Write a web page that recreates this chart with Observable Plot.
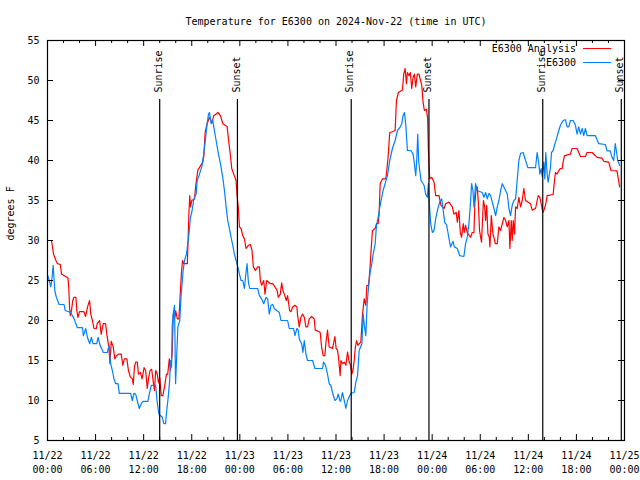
<!DOCTYPE html>
<html><head><meta charset="utf-8">
<script src="https://cdn.jsdelivr.net/npm/d3@7"></script>
<script src="https://cdn.jsdelivr.net/npm/@observablehq/plot@0.6"></script>
<style>
body{margin:0;background:#fff}
#wrap{position:relative;width:640px;height:480px;overflow:hidden}
.legtxt{position:absolute;left:0;width:576px;text-align:right;font:10px "DejaVu Sans Mono",monospace;line-height:12px;color:#000;white-space:pre}
.legline{position:absolute;left:583px;width:28px;height:1px}
</style></head><body><div id="wrap"></div>
<script>
const title = "Temperature for E6300 on 2024-Nov-22 (time in UTC)";
const yLabel = "degrees F";
const seriesNames = ["E6300 Analysis", "E6300"];
const seriesColors = ["#ff0000", "#0080ff"];
const yTicks = [5,10,15,20,25,30,35,40,45,50,55];
const majorTickHours = [0,6,12,18,24,30,36,42,48,54,60,66,72];
const minorTickHours = [2,4,8,10,14,16,20,22,26,28,32,34,38,40,44,46,50,52,56,58,62,64,68,70];
const eventHours = [14.0, 23.7, 37.9, 47.6, 61.8, 71.6];
const eventLabels = ["Sunrise","Sunset","Sunrise","Sunset","Sunrise","Sunset"];

// [hours since 2024-11-22 00:00 UTC, degrees F]
const analysisReadings = [
[0,30],[0.5,30],[0.75,28.3],[1.05,27.5],[1.25,27.1],[1.6,27],[1.75,25.8],[2.55,25.3],[2.65,24.2],[2.75,21.7],[2.85,20.6],[3.0,21.3],[3.15,22.5],[3.3,22.9],[3.55,22.9],[3.65,21.3],[3.8,20.4],[4.0,21.1],[4.55,21.1],[4.75,20.5],[5.0,21.7],[5.25,22.5],[5.4,20.8],[5.6,20],[5.8,19],[6.1,19],[6.2,19.6],[6.5,20],[6.7,18.3],[6.95,19.6],[7.25,19.6],[7.4,18.3],[7.65,16.7],[7.8,14.6],[7.95,17.4],[8.2,16.7],[8.4,15.2],[8.6,15.6],[8.85,15.8],[9.2,15.8],[9.4,14.4],[9.6,15.2],[9.9,15.2],[10.1,13.75],[10.35,12.9],[10.6,12.7],[10.7,12],[10.85,14.2],[11.0,14.8],[11.2,14.8],[11.35,13.3],[11.6,13.5],[11.8,12.7],[12.05,14.1],[12.25,13.75],[12.45,11.5],[12.6,12.7],[12.8,13.75],[13.0,13.9],[13.2,12.3],[13.35,11.25],[13.5,13.75],[13.7,13.3],[13.85,12.2],[14.0,12.9],[14.2,10.6],[14.4,10.6],[14.6,11.7],[14.85,13.3],[15.0,13.3],[15.2,15.2],[15.35,13.75],[15.55,15.8],[15.7,20.8],[15.9,20.4],[16.0,21.2],[16.2,20.2],[16.4,20.2],[16.5,22.1],[16.7,25.8],[16.85,27.5],[17.0,27.1],[17.45,27.1],[17.5,28.75],[17.65,33.5],[17.75,35.6],[17.85,34.2],[18.0,35],[18.35,35.2],[18.5,36.9],[18.76,38.8],[19.38,39.8],[19.51,40.6],[19.67,43.5],[19.92,44.6],[20.21,45.4],[20.5,44.7],[20.75,45.6],[21.04,45.8],[21.25,46],[21.58,45.6],[21.87,44.6],[22.41,44.25],[22.58,42.7],[22.83,40.6],[22.99,39],[23.24,38.3],[23.53,37.5],[23.66,35.6],[23.82,34],[23.95,31.7],[24.15,31.5],[24.36,30.6],[24.57,30.2],[24.78,29],[25.07,29.4],[25.32,29.5],[25.52,28.75],[25.69,26.7],[25.94,26.25],[26.23,26.7],[26.44,26.7],[26.56,25],[26.73,24.4],[26.98,25],[27.14,23.3],[27.35,25],[27.8,24.6],[28.1,24.6],[28.64,23.8],[28.8,22.9],[29.05,23.3],[29.22,24.7],[29.38,23.75],[29.55,23.3],[29.8,22.5],[29.96,23.1],[30.21,21.25],[30.38,21.1],[30.59,21.7],[30.88,21.9],[31.12,21.7],[31.21,20.6],[31.42,19.2],[31.62,20.4],[31.83,20.8],[32.04,20.4],[32.25,19.2],[32.45,19.2],[32.66,20.2],[32.95,20.5],[33.28,20.2],[33.41,18.8],[33.7,18.7],[34.03,18.5],[34.2,16.7],[34.4,15.6],[34.61,15.6],[34.73,17.1],[34.94,18.8],[35.15,16.7],[35.56,16.5],[35.69,17.1],[35.86,18],[36.02,16.5],[36.19,16.3],[36.31,15.4],[36.52,13.1],[36.61,15],[36.82,14.6],[37.03,14.8],[37.23,14.4],[37.44,16.05],[37.65,14.8],[37.82,14.4],[37.98,13.3],[38.15,14],[38.27,15],[38.4,16.5],[38.56,17.5],[38.73,16.9],[38.89,17.1],[39.1,17.3],[39.31,20.8],[39.52,22.7],[39.72,21.9],[39.85,24.4],[40.06,24.4],[40.22,26.25],[40.39,28.95],[40.55,31.25],[40.89,31.5],[41.05,32.1],[41.26,32.1],[41.38,33.3],[41.51,37.1],[41.8,37.7],[42.21,37.7],[42.34,38.75],[42.5,40.4],[42.71,43.5],[43.04,43.6],[43.38,43.75],[43.54,47.5],[43.79,48.5],[44.29,48.8],[44.45,50.8],[44.62,51.5],[44.79,49.6],[44.91,51],[45.12,50.6],[45.28,51],[45.45,49],[45.62,50.4],[45.78,50.8],[45.95,49.2],[46.15,50.8],[46.36,50.8],[46.7,49.4],[46.86,47.3],[47.03,46.25],[47.28,46.4],[47.44,45.2],[47.53,41.25],[47.69,37.7],[47.94,37.9],[48.23,37.3],[48.44,35.6],[48.85,35.6],[49.1,34.4],[49.48,34],[49.68,34.6],[50.1,34.8],[50.51,34.2],[50.72,33.3],[51.01,33.5],[51.14,32.3],[51.34,33.75],[51.51,31],[51.67,30.4],[51.88,32.1],[52.0,31],[52.17,31.9],[52.38,31],[52.79,30.4],[53.0,31],[53.21,31],[53.33,34.6],[53.5,36.7],[53.62,36.7],[53.75,35],[53.91,31.25],[54.05,30.4],[54.16,29.8],[54.3,32.9],[54.4,35],[54.55,34.2],[54.67,32.5],[54.8,34.4],[54.96,30.8],[55.13,30.4],[55.21,29.2],[55.38,33.1],[55.59,30.8],[55.71,30.4],[55.88,29.6],[56.12,29.6],[56.33,31.7],[56.54,31.25],[56.75,32.1],[56.95,32.9],[57.16,32.5],[57.37,31.7],[57.58,32.5],[57.7,29],[57.87,32.5],[57.99,30],[58.12,32.5],[58.28,30.8],[58.41,34.2],[58.61,34],[58.82,35.4],[59.03,34.2],[59.24,35],[59.44,36.5],[59.65,35],[60.27,34.6],[60.48,33.8],[60.9,34],[61.1,35],[61.23,35.6],[61.44,35.4],[61.6,34.6],[61.81,33.5],[61.93,33.75],[62.14,34.4],[62.35,35.6],[63.1,35.75],[63.26,37.5],[63.39,38.5],[63.59,38.3],[63.8,38.75],[64.01,39],[64.22,39],[64.34,39.8],[64.51,40.6],[65.25,40.8],[65.46,41.5],[66.08,41.5],[66.29,41],[66.5,40.5],[67.12,40.5],[67.33,41],[67.95,41],[68.37,40.6],[68.57,40.4],[69.2,40.3],[69.4,39.9],[70.03,39.8],[70.32,38.75],[71.06,38.7],[71.27,37.5],[71.39,36.7]
];
const observedReadings = [
[0,25.7],[0.21,25],[0.41,24.2],[0.54,25.1],[0.71,26.9],[0.83,25],[0.91,23.75],[1.08,23],[1.45,22],[2.07,22],[2.2,21.25],[2.9,21],[3.32,20.2],[3.73,19.1],[4.36,19.1],[4.48,18.1],[4.77,19],[4.98,17.9],[5.27,17.1],[5.48,17.9],[5.68,17.1],[6.14,17.1],[6.31,17.9],[6.56,16.9],[6.97,16],[7.47,16],[7.68,16.9],[7.88,14.6],[8.09,13.75],[8.3,12.7],[8.51,12.1],[8.8,12.1],[8.96,10.9],[10.37,10.9],[10.58,10],[10.79,10.9],[11.0,10.8],[11.2,10],[11.45,9],[11.7,9.6],[11.91,9.9],[12.53,9.9],[12.7,10.8],[12.95,11.9],[13.49,11.9],[13.69,9.8],[13.9,8.3],[14.32,7.9],[14.52,7.1],[14.73,7.1],[14.85,8.5],[15.02,10],[15.23,12.3],[15.35,15],[15.48,14.2],[15.56,19.2],[15.68,20.8],[15.85,21.9],[15.98,12.1],[16.1,15],[16.27,19.2],[16.51,20],[16.68,23.3],[16.93,26.25],[17.1,27.5],[17.34,28.3],[17.51,29.6],[17.63,30.6],[17.84,32.9],[18.0,33.5],[18.26,35.2],[18.55,35.8],[18.68,37.5],[18.97,38.3],[19.3,39.4],[19.51,41],[19.67,42.3],[19.92,44.6],[20.09,45.8],[20.21,46],[20.42,44.6],[20.63,45],[20.75,44.2],[21.04,42.5],[21.33,40.8],[21.58,39.6],[21.87,37.9],[22.08,36.25],[22.29,34.2],[22.49,32.5],[22.7,31.5],[22.91,30.4],[23.12,29.4],[23.32,28.3],[23.53,27.5],[23.74,26.7],[23.95,25.8],[24.15,25],[24.36,25],[24.57,24],[24.78,26.1],[24.9,27.1],[25.07,24.8],[25.23,24],[26.23,24],[26.44,23.1],[26.73,22.7],[26.98,22.1],[27.27,22.9],[27.47,22.7],[27.68,20.8],[27.89,21.9],[28.1,22],[28.3,21.5],[28.93,21],[29.13,20],[29.96,20],[30.17,19],[30.71,19],[30.88,18.1],[31.12,19],[31.29,18.8],[31.42,17.7],[31.71,17.1],[31.87,16],[32.04,17.5],[32.25,15.8],[32.45,15],[33.08,15],[33.37,14],[34.32,14],[34.44,14.8],[34.69,14.4],[34.94,13.3],[35.15,12.1],[35.36,11.9],[35.56,11],[35.86,10],[36.1,10.2],[36.27,10.8],[36.52,9.9],[36.61,10],[36.8,11],[37.03,10],[37.23,9],[37.44,10],[37.86,10.9],[38.27,11],[38.48,12.3],[38.69,13.1],[38.89,16.25],[39.23,17.1],[39.39,20.8],[39.56,19.2],[39.72,18.1],[39.89,22.1],[40.06,24.2],[40.26,26],[40.47,27.1],[40.64,28.3],[40.89,29.6],[41.05,31.9],[41.26,32.9],[41.47,34.2],[41.67,35.2],[41.88,36.25],[42.13,37.1],[42.42,38.1],[42.71,40],[43.04,41.5],[43.38,42.5],[43.67,43.75],[43.96,44.1],[44.21,44.6],[44.37,45.6],[44.54,46],[44.7,44.6],[44.91,41.25],[45.33,41.25],[45.62,40.8],[45.78,39.6],[45.95,38.1],[46.07,39.9],[46.2,43.3],[46.32,39.9],[46.45,38.75],[46.61,37.5],[46.99,36.9],[47.19,35.8],[47.4,35.4],[47.53,37.1],[47.69,34],[47.82,32.1],[48.02,31],[48.23,31.25],[48.44,32.7],[48.65,33.75],[48.94,34.8],[49.19,35.2],[49.35,34],[49.56,32.3],[49.81,31.9],[49.97,31],[50.18,29.8],[50.3,29.2],[50.6,29.9],[50.76,29.2],[51.14,29],[51.43,28.1],[51.96,28],[52.17,29.6],[52.38,30.4],[52.59,32.1],[52.79,34.8],[52.92,37.1],[53.09,36.25],[53.21,34.2],[53.42,37.1],[53.62,36.25],[54.25,36],[54.46,35.4],[54.67,36],[54.88,35.2],[55.09,35.9],[55.3,35.6],[55.5,34.8],[55.71,34],[55.92,33.1],[56.12,34.2],[56.33,35],[56.54,36.25],[56.75,37.1],[57.16,36.25],[57.37,35.8],[57.58,34],[57.78,33.1],[57.99,34.4],[58.2,35],[58.41,35.2],[58.61,37.5],[58.82,40],[59.03,40.9],[59.36,41],[59.53,40.4],[59.78,39.6],[59.94,39.1],[60.9,39.1],[61.1,41],[61.31,39.6],[61.44,38.3],[61.6,39],[61.73,38],[61.93,39.8],[62.06,37.7],[62.18,41],[62.35,38.3],[62.47,37.3],[62.6,38.1],[62.76,39.1],[62.89,41],[63.1,41.25],[63.26,41.9],[63.51,42.7],[63.8,43.75],[64.01,44.4],[64.34,45],[64.63,45.1],[64.84,44.2],[65.05,44.2],[65.25,45],[65.59,45],[65.88,44.4],[66.08,43.3],[66.29,44.2],[66.5,43.3],[66.71,44],[66.91,43.1],[67.12,44],[67.33,43.1],[68.37,43.1],[68.78,42.1],[69.61,42],[69.82,41.2],[70.23,41.2],[70.44,40.4],[70.65,40],[70.85,42.1],[70.98,41.25],[71.15,40],[71.39,39.4]
];

const t0 = Date.UTC(2024, 10, 22);
const toDate = h => new Date(t0 + h * 3600e3);
const analysis = analysisReadings.map(([h, v]) => ({t: toDate(h), v}));
const observed = observedReadings.map(([h, v]) => ({t: toDate(h), v}));
const events = eventHours.map((h, i) => ({t: toDate(h), label: eventLabels[i]}));
const majors = majorTickHours.map(toDate);
const minors = minorTickHours.map(toDate);
const fmtDay = d3.utcFormat("%m/%d"), fmtTime = d3.utcFormat("%H:%M");

const W = 640, H = 480, mt = 40, mb = 40, ml = 47, mr = 16;
const ph = H - mt - mb, pw = W - ml - mr;
const font = "DejaVu Sans Mono";

const chart = Plot.plot({
  width: W, height: H,
  marginTop: mt, marginBottom: mb, marginLeft: ml, marginRight: mr,
  style: {fontFamily: font, fontSize: "10px", background: "#fff", color: "#000"},
  x: {type: "utc", domain: [toDate(0), toDate(72)]},
  y: {domain: [5, 55]},
  marks: [
    Plot.line(analysis, {x: "t", y: "v", stroke: seriesColors[0], strokeWidth: 1.2}),
    Plot.line(observed, {x: "t", y: "v", stroke: seriesColors[1], strokeWidth: 1.2}),
    Plot.ruleX(events, {x: "t", insetTop: 59, stroke: "#000", strokeWidth: 1.2}),
    Plot.text(events, {x: "t", text: "label", frameAnchor: "top", dx: -5, dy: 52, rotate: -90, textAnchor: "start", fill: "#000", fontSize: 10}),
    // ticks (inward, mirrored)
    Plot.ruleX(majors, {x: d => d, insetTop: ph - 6, stroke: "#000"}),
    Plot.ruleX(majors, {x: d => d, insetBottom: ph - 6, stroke: "#000"}),
    Plot.ruleX(minors, {x: d => d, insetTop: ph - 3, stroke: "#000"}),
    Plot.ruleX(minors, {x: d => d, insetBottom: ph - 3, stroke: "#000"}),
    Plot.ruleY(yTicks, {y: d => d, insetRight: pw - 6, stroke: "#000"}),
    Plot.ruleY(yTicks, {y: d => d, insetLeft: pw - 6, stroke: "#000"}),
    Plot.frame({stroke: "#000", strokeWidth: 1.2}),
    Plot.axisY({ticks: yTicks, tickSize: 0, tickPadding: 8, label: null, fontSize: 10}),
    Plot.axisX({ticks: majors, tickSize: 0, tickPadding: 9, label: null, lineHeight: 1.35, fontSize: 10,
      tickFormat: d => fmtDay(d) + "\n" + fmtTime(d)}),
    Plot.text([title], {text: d => d, frameAnchor: "top", dy: -23, fill: "#000", fontSize: 10}),
    Plot.text([yLabel], {text: d => d, frameAnchor: "left", dx: -37, rotate: -90, fill: "#000", fontSize: 10})
  ]
});
const wrap = document.getElementById("wrap");
wrap.appendChild(chart);
seriesNames.forEach((name, i) => {
  const t = document.createElement("div");
  t.className = "legtxt"; t.textContent = name; t.style.top = (43 + i * 14) + "px";
  wrap.appendChild(t);
  const l = document.createElement("div");
  l.className = "legline"; l.style.top = (48 + i * 14) + "px"; l.style.background = seriesColors[i];
  wrap.appendChild(l);
});
</script></body></html>
